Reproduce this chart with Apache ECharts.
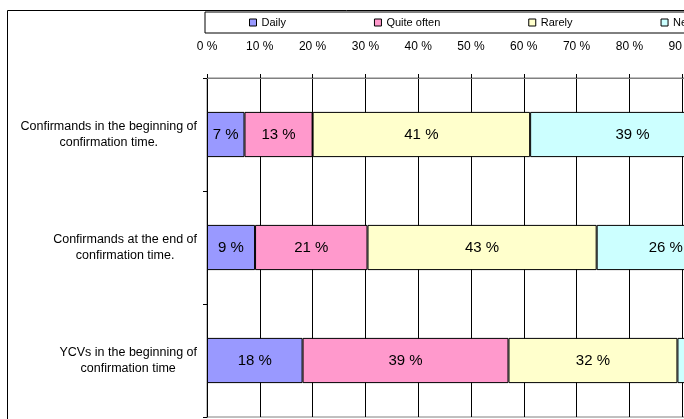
<!DOCTYPE html>
<html>
<head>
<meta charset="utf-8">
<script src="https://cdn.jsdelivr.net/npm/echarts@6/dist/echarts.min.js"></script>
<style>
html,body{margin:0;padding:0;background:#fff;}
#chart{width:684px;height:419px;}
</style>
</head>
<body>
<div id="chart"></div>
<script>
const categories = [
  'Confirmands in the beginning of\nconfirmation time.',
  'Confirmands at the end of\nconfirmation time.',
  'YCVs in the beginning of\nconfirmation time'
];
const seriesNames = ['Daily', 'Quite often', 'Rarely', 'Never'];
const daily = [7.1, 9.1, 18.1];
const quiteOften = [12.9, 21.3, 39.0];
const rarely = [41.2, 43.4, 32.0];
const never = [38.8, 26.2, 10.9];
const xTicks = [0, 10, 20, 30, 40, 50, 60, 70, 80, 90, 100];
const colors = ['#9999FF', '#FF99CC', '#FFFFCC', '#CCFFFF'];

const FONT = '"Liberation Sans", Arial, sans-serif';
const values = [daily, quiteOften, rarely, never];

const chart = echarts.init(document.getElementById('chart'), null, {renderer: 'canvas'});
const option = {
  backgroundColor: '#fff',
  animation: false,
  textStyle: {fontFamily: FONT},
  graphic: [{
    type: 'rect', silent: true, z: 100,
    shape: {x: 7.5, y: 10.5, width: 1000, height: 1000},
    style: {fill: 'none', stroke: '#000', lineWidth: 1}
  }],
  legend: {
    data: seriesNames,
    left: 205, top: 12, width: 700,
    orient: 'horizontal',
    itemWidth: 7, itemHeight: 7, itemGap: 88,
    padding: [5, 40, 5, 44],
    borderColor: '#000', borderWidth: 1,
    icon: 'rect',
    itemStyle: {borderColor: '#000', borderWidth: 1},
    textStyle: {fontSize: 11, color: '#000', fontFamily: FONT}
  },
  grid: {
    left: 207, top: 78, width: 528, height: 339,
    show: true, borderColor: '#808080', borderWidth: 1,
    containLabel: false,
    outerBoundsMode: 'none'
  },
  xAxis: {
    type: 'value', position: 'top',
    min: xTicks[0], max: xTicks[xTicks.length - 1], interval: 10,
    axisLine: {show: true, lineStyle: {color: '#808080', width: 1}},
    axisTick: {show: true, length: 4, lineStyle: {color: '#000'}},
    axisLabel: {formatter: '{value} %', fontSize: 12, color: '#000', margin: 25, fontFamily: FONT},
    splitLine: {show: true, lineStyle: {color: '#000', width: 1}}
  },
  yAxis: {
    type: 'category', inverse: true, data: categories,
    axisLine: {show: true, lineStyle: {color: '#000'}},
    axisTick: {show: true, length: 4, lineStyle: {color: '#000'}},
    axisLabel: {
      margin: 10, color: '#000', fontFamily: FONT,
      formatter: v => v.split('\n').map(s => '{c|' + s + '}').join('\n'),
      rich: {c: {align: 'center', fontSize: 12.5, lineHeight: 16, color: '#000', fontFamily: FONT}}
    },
    splitLine: {show: false}
  },
  series: seriesNames.map((name, i) => ({
    name, type: 'bar', stack: 'total',
    barCategoryGap: '60%',
    data: values[i],
    itemStyle: {color: colors[i], borderColor: '#000', borderWidth: 1},
    label: {
      show: true, position: 'inside', color: '#000', fontSize: 15, fontFamily: FONT,
      formatter: p => Math.round(p.value) + ' %'
    }
  }))
};
chart.setOption(option);
</script>
</body>
</html>
